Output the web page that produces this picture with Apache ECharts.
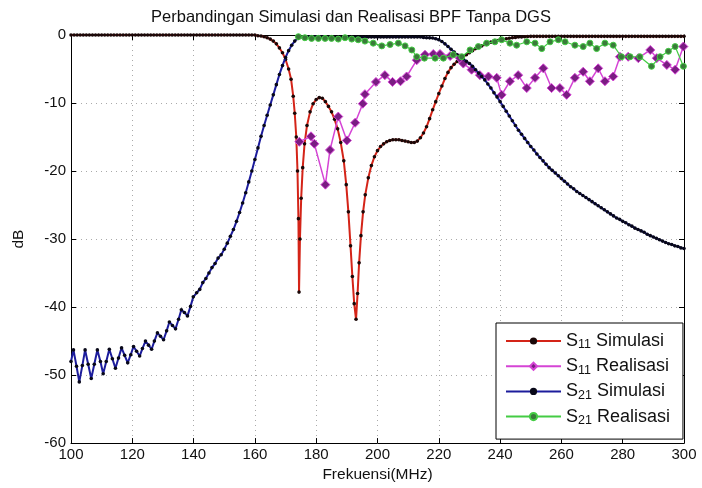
<!DOCTYPE html>
<html>
<head>
<meta charset="utf-8">
<script src="https://cdn.jsdelivr.net/npm/echarts@6/dist/echarts.min.js"></script>
<style>
  html, body { margin: 0; padding: 0; background: #fff; }
  #chart { width: 702px; height: 488px; }
</style>
</head>
<body>
<div id="chart"></div>
<script>
// ── Data ──────────────────────────────────────────────────
const seriesNames = ['S11 Simulasi', 'S11 Realisasi', 'S21 Simulasi', 'S21 Realisasi']

// S11 simulasi
const s11SimFreq = [
  100,101,102,103,104,105,106,107,108,109,110,111,112,113,114,115,116,117,118,119,
  120,121,122,123,124,125,126,127,128,129,130,131,132,133,134,135,136,137,138,139,
  140,141,142,143,144,145,146,147,148,149,150,151,152,153,154,155,156,157,158,159,
  160,161,162,163,164,165,166,167,168,169,170,171,171.8,172.5,173,173.5,173.9,174.2,174.4,
  174.7,175.1,175.6,176.2,177,178,179,180,181,182,183,184,185,186,187,188,189,189.8,
  190.5,191.2,191.8,192.4,193,193.5,194,194.6,195.3,196,197,198,199,200,201,202,203,
  204,205,206,207,208,209,210,211,212,213,214,215,216,217,218,219,220,221,222,223,224,
  225,226,227,228,229,230,231,232,233,234,235,236,237,238,239,240,241,242,243,244,245,
  246,247,248,249,250,251,252,253,254,255,256,257,258,259,260,261,262,263,264,265,
  266,267,268,269,270,271,272,273,274,275,276,277,278,279,280,281,282,283,284,285,
  286,287,288,289,290,291,292,293,294,295,296,297,298,299,300
]
const s11SimDb = [
  0,0,0,0,0,0,0,0,0,0,0,0,0,0,0,0,0,0,0,0,
  0,0,0,0,0,0,0,0,0,0,0,0,0,0,0,0,0,0,0,0,
  0,0,0,0,0,0,0,0,0,0,0,0,0,0,0,0,0,0,0,0,
  0,-0.1,-0.15,-0.25,-0.4,-0.6,-0.9,-1.3,-1.9,-2.6,-3.6,-5,-6.5,-9,-11.5,-15,-20,-27,-37.8,
  -30,-24,-19.5,-16,-13.3,-11.3,-10.1,-9.5,-9.2,-9.3,-9.8,-10.5,-11.3,-12.4,-13.8,-15.8,-18.5,-22,
  -26,-31,-35.5,-39.5,-41.8,-38,-33.5,-29.5,-26,-23.5,-21,-19.2,-17.9,-17,-16.4,-16,-15.7,
  -15.5,-15.4,-15.4,-15.4,-15.5,-15.6,-15.7,-15.8,-15.8,-15.6,-15.1,-14.4,-13.5,-12.3,-11.0,-9.8,-8.6,-7.5,-6.4,-5.5,-4.8,
  -4.3,-3.9,-3.5,-3.2,-2.9,-2.6,-2.3,-2.0,-1.8,-1.6,-1.4,-1.2,-1.05,-0.9,-0.8,-0.7,-0.62,-0.55,-0.48,-0.4,-0.35,
  -0.3,-0.28,-0.25,-0.22,-0.2,-0.2,-0.2,-0.2,-0.2,-0.2,-0.2,-0.2,-0.2,-0.2,-0.2,-0.2,-0.2,-0.2,-0.2,-0.2,
  -0.2,-0.2,-0.2,-0.2,-0.2,-0.2,-0.2,-0.2,-0.2,-0.2,-0.2,-0.2,-0.2,-0.2,-0.2,-0.2,-0.2,-0.2,-0.2,-0.2,
  -0.2,-0.2,-0.2,-0.2,-0.2,-0.2,-0.2,-0.2,-0.2,-0.2,-0.2,-0.2,-0.2,-0.2,-0.2
]

// S11 realisasi
const s11RealFreq = [
  174.5,178.3,179.4,183,184.5,187.2,190,192.7,195.2,195.9,199.5,202.4,204.9,207.5,209.5,212.8,
  215.5,218.2,220.4,223.7,226.9,228,230.7,233.4,236.2,238.9,240.5,243.2,245.9,248.7,251.4,254.1,
  256.8,259.5,261.7,264.4,267.1,269.3,272,274.2,276.9,279.1,281.8,285.1,289,291.1,294.4,297.1,299.8
]
const s11RealDb = [
  -15.7,-14.9,-16.0,-22.0,-16.9,-12.0,-15.5,-12.9,-10.1,-8.7,-6.9,-5.9,-6.9,-6.8,-6.1,-3.7,
  -2.9,-2.8,-2.8,-3.1,-3.4,-4.2,-5.1,-5.9,-6.1,-6.3,-8.8,-6.8,-5.9,-7.8,-6.3,-4.9,
  -7.8,-7.8,-8.8,-6.3,-5.4,-6.8,-4.9,-6.8,-6.1,-3.2,-3.2,-3.4,-2.2,-3.4,-4.4,-5.1,-1.7
]

// S21 simulasi
const s21SimFreq = [
  100,100.8,101.8,102.7,103.7,104.6,105.6,106.6,107.6,108.6,109.6,110.5,111.5,112.5,113.5,114.5,
  115.5,116.5,117.5,118.5,119.5,120.4,121.4,122.4,123.3,124.3,125.3,126.3,127.2,128.2,129.2,130.2,
  131.2,132.1,133.1,134.1,135.1,136,137,138,139,139.9,141,142,143,144,145,146,147,148,149,150,
  151,152,153,154,155,156,157,158,159,160,161,162,163,164,165,166,167,168,169,170,171,172,173,174,
  175,176,177,178,179,180,181,182,183,184,185,186,187,188,189,190,191,192,193,194,195,196,197,198,199,
  200,201,202,203,204,205,206,207,208,209,210,211,212,213,214,215,216,217,218,219,220,221,222,223,224,
  225,226,227,228,229,230,231,232,233,234,235,236,237,238,239,240,241,242,243,244,245,246,247,248,249,
  250,251,252,253,254,255,256,257,258,259,260,261,262,263,264,265,266,267,268,269,270,271,272,273,274,
  275,276,277,278,279,280,281,282,283,284,285,286,287,288,289,290,291,292,293,294,295,296,297,298,299,300
]
const s21SimDb = [
  -48.0,-46.3,-48.7,-51.0,-48.6,-46.3,-48.4,-50.5,-48.4,-46.3,-48.0,-49.8,-48.0,-46.2,-47.6,-49.0,
  -47.5,-46.0,-47.1,-48.2,-47.0,-45.8,-46.5,-47.2,-46.1,-45.0,-45.6,-46.2,-45.0,-43.8,-44.3,-44.8,
  -43.5,-42.2,-42.7,-43.2,-41.8,-40.4,-40.8,-41.3,-39.9,-38.5,-37.9,-37.4,-36.4,-35.8,-35.0,-34.2,-33.6,-32.8,-32.3,-31.5,
  -30.6,-29.6,-28.6,-27.4,-26.1,-24.7,-23.2,-21.6,-20.0,-18.3,-16.6,-14.9,-13.3,-11.8,-10.3,-8.8,-7.3,-5.8,-4.5,-3.3,-2.3,-1.5,-0.9,-0.5,
  -0.3,-0.25,-0.25,-0.25,-0.25,-0.25,-0.25,-0.25,-0.3,-0.3,-0.3,-0.3,-0.3,-0.3,-0.3,-0.3,-0.3,-0.3,-0.3,-0.3,-0.3,-0.3,-0.3,-0.3,-0.3,
  -0.3,-0.3,-0.3,-0.3,-0.3,-0.3,-0.3,-0.3,-0.3,-0.3,-0.3,-0.3,-0.3,-0.3,-0.3,-0.35,-0.4,-0.42,-0.45,-0.55,-0.7,-0.95,-1.3,-1.7,-2.1,
  -2.5,-2.9,-3.2,-3.5,-3.85,-4.2,-4.6,-5.1,-5.6,-6.1,-6.6,-7.2,-7.8,-8.5,-9.1,-9.8,-10.5,-11.2,-11.9,-12.6,-13.3,-14.0,-14.6,-15.2,-15.8,
  -16.4,-16.9,-17.5,-18.0,-18.5,-19.0,-19.5,-19.9,-20.3,-20.7,-21.1,-21.5,-21.9,-22.3,-22.6,-23.0,-23.3,-23.6,-23.9,-24.2,-24.5,-24.8,-25.1,-25.4,-25.7,
  -26.0,-26.3,-26.6,-26.9,-27.1,-27.4,-27.6,-27.9,-28.1,-28.4,-28.6,-28.8,-29.0,-29.3,-29.5,-29.7,-29.9,-30.1,-30.3,-30.5,-30.7,-30.8,-31.0,-31.1,-31.3,-31.4
]

// S21 realisasi
const s21RealFreq = [
  174.2,176.3,178.5,180.7,182.9,185,187.2,189.4,191.6,193.7,195.9,198.6,201.4,204.1,206.8,209,
  211.2,212.8,215.3,218.8,221.5,224.7,227.5,230.2,232.9,235.6,238.3,240.5,243.2,245.4,248.7,251.4,
  253.6,256.3,259,261.2,264.4,267.1,269.3,271.5,274.2,276.9,279.6,282.4,285.6,289.4,292.2,294.9,297.1,299.8
]
const s21RealDb = [
  -0.25,-0.4,-0.5,-0.5,-0.5,-0.5,-0.6,-0.4,-0.6,-0.7,-0.9,-1.2,-1.6,-1.4,-1.2,-1.6,
  -2.2,-3.2,-3.4,-3.4,-3.4,-2.9,-3.2,-2.2,-1.7,-1.2,-1.0,-0.7,-1.2,-1.5,-1.0,-1.2,
  -2.0,-1.0,-0.7,-1.0,-1.5,-1.7,-1.2,-2.0,-1.2,-1.5,-3.2,-3.2,-3.2,-4.6,-3.2,-2.4,-1.7,-4.6
]

const xTicks = { min: 100, max: 300, interval: 20 }
const yTicks = { min: -60, max: 0, interval: 10 }

// ── Helpers ───────────────────────────────────────────────
const zip = (xs, ys) => xs.map((x, i) => [x, ys[i]])

const FONT = 'Liberation Sans, Arial, sans-serif'

function legendLabel(name) {
  // "S11 Simulasi" → S + subscript 11 + rest
  return '{n|S}{s|' + name.slice(1, 3) + '}{n| ' + name.slice(4) + '}'
}

const frameAxis = (pos, t) => ({
  type: 'value', position: pos, min: t.min, max: t.max, interval: t.interval,
  axisLine: { show: true, lineStyle: { color: '#000' } },
  axisTick: { show: true, inside: true, length: 5, lineStyle: { color: '#000' } },
  axisLabel: { show: false }, splitLine: { show: false },
})

// ── Chart ────────────────────────────────────────────────
const chart = echarts.init(document.getElementById('chart'), null, { renderer: 'canvas' })

chart.setOption({
  animation: false,
  backgroundColor: '#fff',
  textStyle: { fontFamily: FONT },
  title: {
    text: 'Perbandingan Simulasi dan Realisasi BPF Tanpa DGS',
    left: 'center', top: 4,
    textStyle: { fontFamily: FONT, fontSize: 16.5, fontWeight: 'normal', color: '#111' },
  },
  grid: { left: 71, right: 18, top: 35, bottom: 44, show: false },
  legend: {
    data: seriesNames,
    orient: 'vertical',
    left: 496, top: 323,
    padding: [9, 13, 12, 9],
    itemGap: 5.7,
    itemWidth: 55, itemHeight: 9,
    backgroundColor: '#fff',
    borderColor: '#000', borderWidth: 1,
    formatter: legendLabel,
    textStyle: {
      fontFamily: FONT, color: '#111',
      rich: {
        n: { fontSize: 18, lineHeight: 21, fontFamily: FONT, color: '#111' },
        s: { fontSize: 12.5, lineHeight: 12, verticalAlign: 'bottom', fontFamily: FONT, color: '#111' },
      },
    },
  },
  xAxis: [{
    type: 'value', min: xTicks.min, max: xTicks.max, interval: xTicks.interval,
    name: 'Frekuensi(MHz)', nameLocation: 'middle', nameGap: 21,
    nameTextStyle: { fontFamily: FONT, fontSize: 15.5, color: '#111' },
    axisLine: { show: true, onZero: false, lineStyle: { color: '#000' } },
    axisTick: { show: true, inside: true, length: 5, lineStyle: { color: '#000' } },
    axisLabel: { fontFamily: FONT, fontSize: 15, color: '#111', margin: 4 },
    splitLine: { show: true, lineStyle: { color: '#aaa', type: [1, 4], width: 1 } },
  }, frameAxis('top', xTicks)],
  yAxis: [{
    type: 'value', min: yTicks.min, max: yTicks.max, interval: yTicks.interval,
    name: 'dB', nameLocation: 'middle', nameGap: 44, nameRotate: 90,
    nameTextStyle: { fontFamily: FONT, fontSize: 15.5, color: '#111' },
    axisLine: { show: true, onZero: false, lineStyle: { color: '#000' } },
    axisTick: { show: true, inside: true, length: 5, lineStyle: { color: '#000' } },
    axisLabel: { fontFamily: FONT, fontSize: 15, color: '#111', margin: 5 },
    splitLine: { show: true, lineStyle: { color: '#aaa', type: [1, 4], width: 1 } },
  }, frameAxis('right', yTicks)],
  series: [
    {
      name: 'S11 Simulasi', type: 'line',
      data: zip(s11SimFreq, s11SimDb),
      lineStyle: { color: '#d42418', width: 2 },
      symbol: 'circle', symbolSize: 3.6,
      itemStyle: { color: '#1a0808' },
      z: 2,
    },
    {
      name: 'S11 Realisasi', type: 'line',
      data: zip(s11RealFreq, s11RealDb),
      lineStyle: { color: '#d544d5', width: 1.5 },
      symbol: 'diamond', symbolSize: 9,
      itemStyle: { color: '#7a1d82', borderColor: '#d544d5', borderWidth: 1 },
      z: 3,
    },
    {
      name: 'S21 Simulasi', type: 'line',
      data: zip(s21SimFreq, s21SimDb),
      lineStyle: { color: '#1c1c9c', width: 2 },
      symbol: 'circle', symbolSize: 3.6,
      itemStyle: { color: '#080818' },
      z: 4,
    },
    {
      name: 'S21 Realisasi', type: 'line',
      data: zip(s21RealFreq, s21RealDb),
      lineStyle: { color: '#44cc44', width: 1.2 },
      symbol: 'circle', symbolSize: 6,
      itemStyle: { color: '#3a7a3a', borderColor: '#44cc44', borderWidth: 1 },
      z: 5,
    },
  ],
})
</script>
</body>
</html>
